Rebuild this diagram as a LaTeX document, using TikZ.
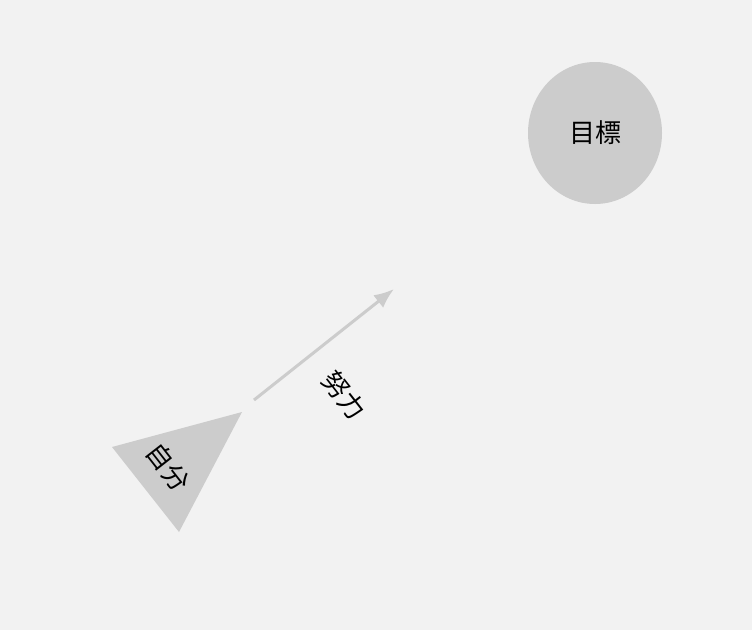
\documentclass[tikz,border=0pt]{standalone}
\usepackage{fontspec}
\usepackage{tikz}
\usepackage{xcolor}
\usetikzlibrary{shapes.geometric,arrows.meta}
\newfontfamily\jpfont{Noto Sans CJK JP}
\definecolor{bgcol}{HTML}{F2F2F2}
\definecolor{shapecol}{HTML}{CCCCCC}
\begin{document}
\begin{tikzpicture}[x=1pt,y=-1pt,font=\jpfont\fontsize{26}{26}\selectfont]
\fill[bgcol] (0,0) rectangle (752,630);
\useasboundingbox (0,0) rectangle (752,630);
\node[ellipse,fill=shapecol,minimum width=134pt,minimum height=142pt,inner sep=0pt] (goal) at (595,133) {目標};
\fill[shapecol] (242,412) -- (112,447) -- (179,532) -- cycle;
\node[rotate=-52] (self) at (168,467) {自分};
\coordinate (start) at (254,400);
\coordinate (tip) at (394,289);
\draw[shapecol,line width=3pt,-{Latex[length=20pt,width=16pt]}] (start) -- (tip);
\node[rotate=-52] (effort) at (344,395) {努力};
\end{tikzpicture}
\end{document}
